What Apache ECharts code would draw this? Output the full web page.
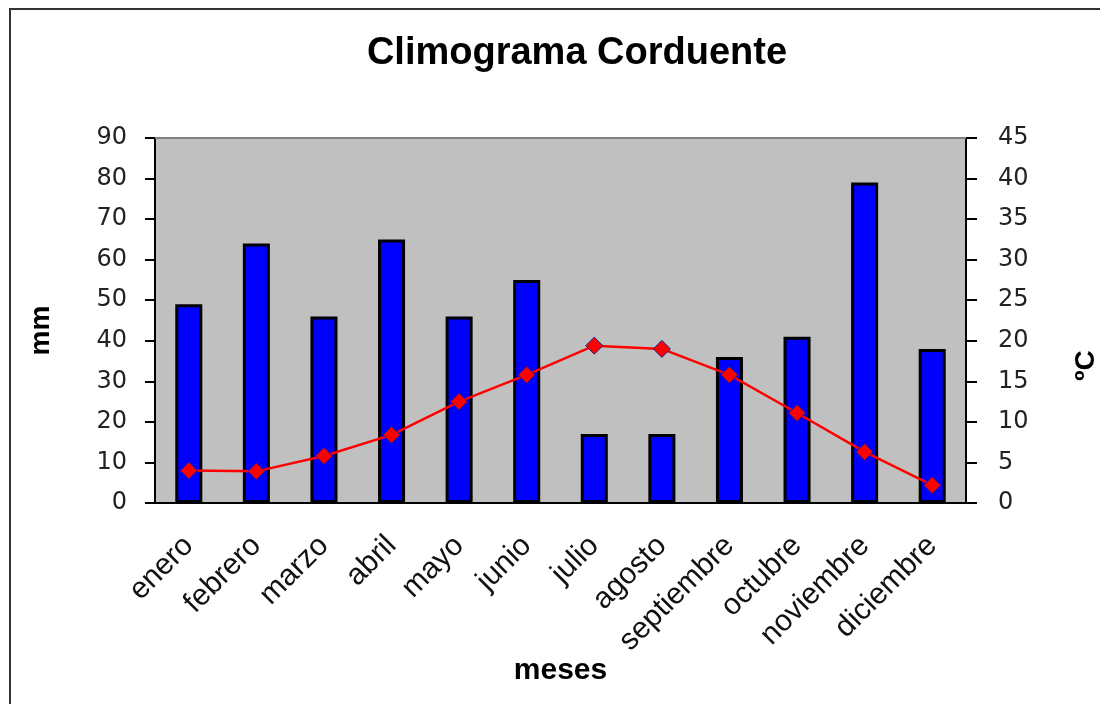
<!DOCTYPE html>
<html>
<head>
<meta charset="utf-8">
<title>Climograma Corduente</title>
<script src="https://cdn.jsdelivr.net/npm/echarts@6/dist/echarts.min.js"></script>
<style>
  html, body { margin: 0; padding: 0; background: #fff; }
  #chart { width: 1100px; height: 704px; }
</style>
</head>
<body>
<div id="chart"></div>
<script>
// datos del climograma
var meses = ['enero', 'febrero', 'marzo', 'abril', 'mayo', 'junio', 'julio', 'agosto', 'septiembre', 'octubre', 'noviembre', 'diciembre'];
var precipitacion = [49, 64, 46, 65, 46, 55, 17, 17, 36, 41, 79, 38];
var temperatura = [4.0, 3.9, 5.8, 8.4, 12.5, 15.8, 19.4, 19.0, 15.8, 11.1, 6.3, 2.2];

var myChart = echarts.init(document.getElementById('chart'));

var option = {
    backgroundColor: '#fff',
    animation: false,
    title: {
        text: 'Climograma Corduente',
        left: 572,
        top: 30,
        textAlign: 'center',
        textStyle: {
            fontFamily: 'Liberation Sans',
            fontSize: 38,
            fontWeight: 'bold',
            color: '#000'
        }
    },
    // marco exterior
    graphic: [{
        type: 'rect',
        shape: { x: 10, y: 9, width: 1110, height: 720 },
        style: { fill: 'none', stroke: '#333', lineWidth: 2 },
        z: 100
    }, {
        type: 'line',
        shape: { x1: 155, y1: 138, x2: 966, y2: 138 },
        style: { stroke: '#808080', lineWidth: 2 },
        z: 1
    }],
    grid: {
        left: 155,
        right: 134,
        top: 138,
        bottom: 201,
        outerBoundsMode: 'none',
        containLabel: false,
        show: true,
        backgroundColor: '#c0c0c0',
        borderWidth: 0
    },
    xAxis: {
        type: 'category',
        data: meses,
        boundaryGap: true,
        name: 'meses',
        nameLocation: 'middle',
        nameGap: 153,
        nameMoveOverlap: false,
        nameTextStyle: {
            fontFamily: 'Liberation Sans',
            fontSize: 30,
            fontWeight: 'bold',
            color: '#000'
        },
        axisLine: { lineStyle: { color: '#000', width: 2 } },
        axisTick: { alignWithLabel: false, length: 10, lineStyle: { color: '#000', width: 2 } },
        axisLabel: {
            rotate: 45,
            interval: 0,
            margin: 38,
            fontFamily: 'Liberation Sans',
            fontSize: 30,
            color: '#111'
        }
    },
    yAxis: [{
        type: 'value',
        min: 0,
        max: 90,
        interval: 10,
        name: 'mm',
        nameLocation: 'middle',
        nameGap: 100,
        nameTextStyle: {
            fontFamily: 'Liberation Sans',
            fontSize: 28,
            fontWeight: 'bold',
            color: '#000',
            padding: [0, 20, 0, 0]
        },
        axisLine: { show: true, lineStyle: { color: '#000', width: 2 } },
        axisTick: { show: true, length: 10, lineStyle: { color: '#000', width: 2 } },
        splitLine: { show: false },
        axisLabel: {
            margin: 28,
            fontFamily: 'DejaVu Sans',
            fontSize: 24,
            color: '#222'
        }
    }, {
        type: 'value',
        min: 0,
        max: 45,
        interval: 5,
        position: 'right',
        name: 'ºC',
        nameLocation: 'middle',
        nameGap: 106,
        nameTextStyle: {
            fontFamily: 'Liberation Sans',
            fontSize: 28,
            fontWeight: 'bold',
            color: '#000',
            padding: [0, 90, 0, 0]
        },
        axisLine: { show: true, lineStyle: { color: '#000', width: 2 } },
        axisTick: { show: true, length: 11, lineStyle: { color: '#000', width: 2 } },
        splitLine: { show: false },
        axisLabel: {
            margin: 32,
            fontFamily: 'DejaVu Sans',
            fontSize: 24,
            color: '#222'
        }
    }],
    series: [{
        name: 'precipitación',
        type: 'bar',
        data: precipitacion,
        barWidth: '40%',
        itemStyle: {
            color: '#0000ff',
            borderColor: '#000',
            borderWidth: 3
        }
    }, {
        name: 'temperatura',
        type: 'line',
        yAxisIndex: 1,
        data: temperatura,
        symbol: 'diamond',
        symbolSize: 17,
        lineStyle: { color: '#ff0000', width: 2.5 },
        itemStyle: {
            color: '#ff0000',
            borderColor: '#1a1a8c',
            borderWidth: 1
        }
    }]
};

myChart.setOption(option);
</script>
</body>
</html>
